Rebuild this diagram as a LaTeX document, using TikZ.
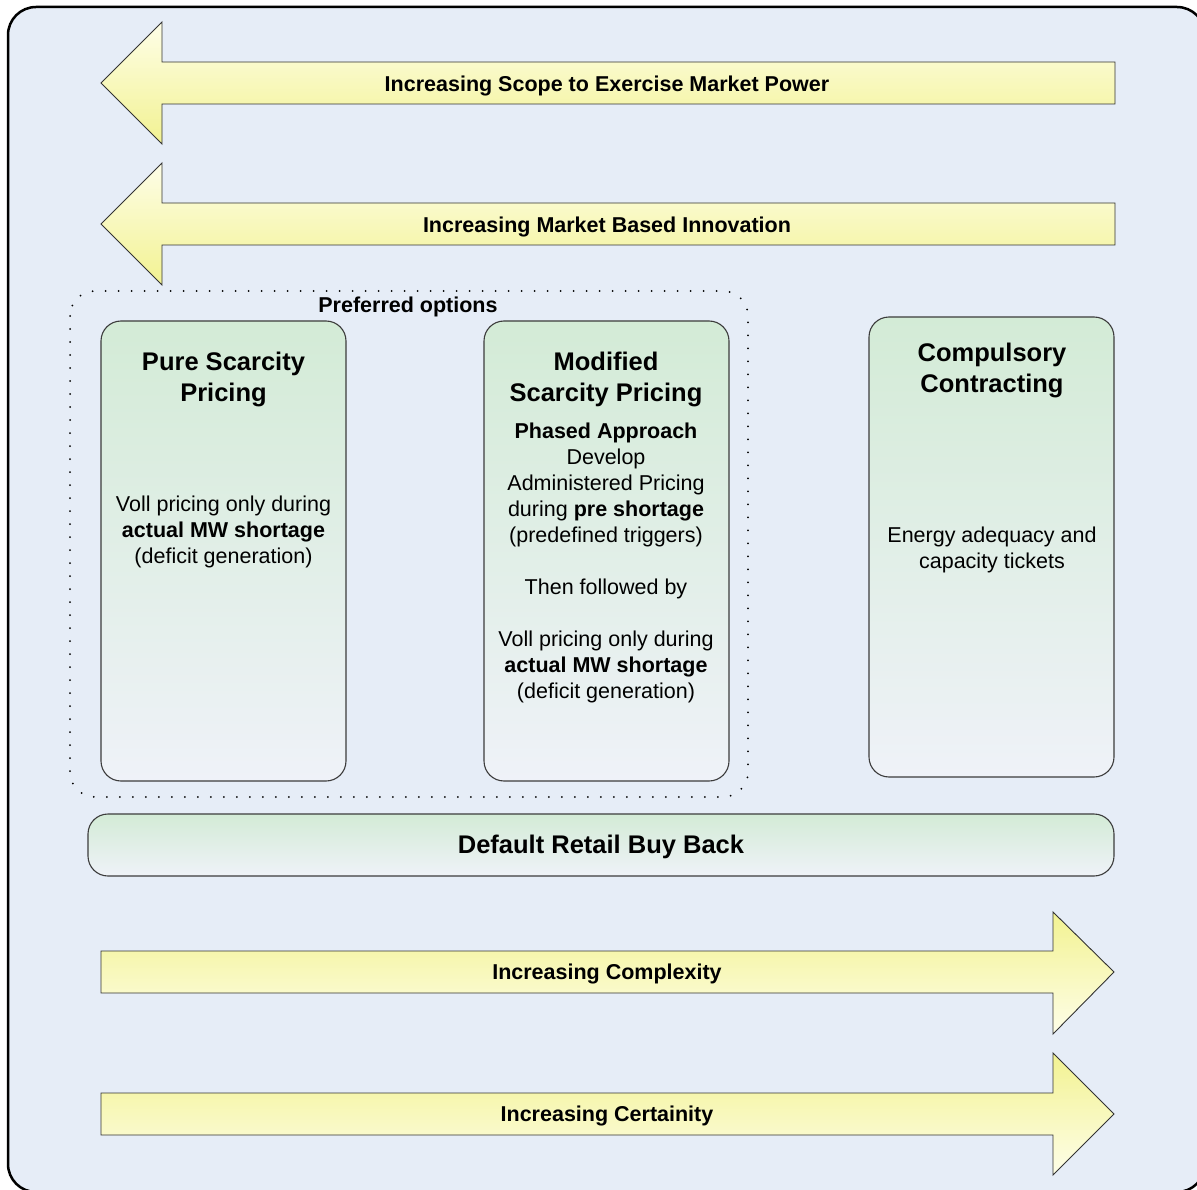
\documentclass[tikz,border=0pt]{standalone}
\usepackage{fontspec}
\setmainfont{Liberation Sans}
\definecolor{bgblue}{RGB}{230,237,247}
\definecolor{boxtop}{RGB}{211,235,214}
\definecolor{boxbot}{RGB}{239,242,248}
\definecolor{boxline}{RGB}{60,60,60}
\definecolor{ylight}{RGB}{254,254,232}
\definecolor{ymid}{RGB}{247,247,176}
\definecolor{ydark}{RGB}{242,242,145}
\newcommand{\titlesize}{\fontsize{25.5}{31}\selectfont\bfseries}
\newcommand{\bodysize}{\fontsize{21.5}{26}\selectfont}
\begin{document}
\begin{tikzpicture}[x=1pt,y=-1pt,
  greenbox/.style={draw=boxline, line width=1.1pt, rounded corners=20pt,
    top color=boxtop, bottom color=boxbot, inner sep=0pt},
  leftarrow/.style={draw=black!80, line width=0.9pt,
    top color=ylight, middle color=ymid, bottom color=ydark},
  rightarrow/.style={draw=black!80, line width=0.9pt,
    top color=ydark, middle color=ymid, bottom color=ylight},
  albl/.style={font=\bodysize\bfseries, inner sep=0pt},
  ttl/.style={font=\titlesize, align=center, inner sep=0pt},
  bdy/.style={font=\bodysize, align=center, inner sep=0pt}]
\useasboundingbox (0,0) rectangle (1197,1190);
\begin{scope}
\clip (0,0) rectangle (1197,1190);
\draw[line width=2.5pt, fill=bgblue, rounded corners=28pt] (8,7) rectangle (1205,1192);
\end{scope}

% top arrows (pointing left)
\path[leftarrow] (101,83) -- (162,22) -- (162,62) -- (1115,62) -- (1115,104) -- (162,104) -- (162,144) -- cycle;
\node[albl] (a1) at (607,85.5) {Increasing Scope to Exercise Market Power};
\path[leftarrow] (101,224) -- (162,163) -- (162,203) -- (1115,203) -- (1115,245) -- (162,245) -- (162,285) -- cycle;
\node[albl] (a2) at (607,226.5) {Increasing Market Based Innovation};

% bottom arrows (pointing right)
\path[rightarrow] (1114,972) -- (1053,912) -- (1053,951) -- (101,951) -- (101,993) -- (1053,993) -- (1053,1034) -- cycle;
\node[albl] (a3) at (607,973.5) {Increasing Complexity};
\path[rightarrow] (1114,1114) -- (1053,1053) -- (1053,1093) -- (101,1093) -- (101,1135) -- (1053,1135) -- (1053,1175) -- cycle;
\node[albl] (a4) at (607,1115.5) {Increasing Certainity};

% preferred options dotted frame
\draw[line width=2pt, line cap=round, dash pattern=on 0pt off 13pt, rounded corners=25pt]
  (70,291) rectangle (748,797);
\node[albl] (pref) at (408,306.5) {Preferred options};

% boxes
\path[greenbox] (101,321) rectangle (346,781);
\node[ttl] (t1) at (223.5,379) {Pure Scarcity\\Pricing};
\node[bdy] (d1) at (223.5,532) {Voll pricing only during\\\textbf{actual MW shortage}\\(deficit generation)};

\path[greenbox] (484,321) rectangle (729,781);
\node[ttl] (t2) at (606,379) {Modified\\Scarcity Pricing};
\node[bdy] (d2) at (606,563) {\textbf{Phased Approach}\\Develop\\Administered Pricing\\during \textbf{pre shortage}\\(predefined triggers)\\[26pt]Then followed by\\[26pt]Voll pricing only during\\\textbf{actual MW shortage}\\(deficit generation)};

\path[greenbox] (869,317) rectangle (1114,777);
\node[ttl] (t3) at (992,370) {Compulsory\\Contracting};
\node[bdy] (d3) at (992,549.5) {Energy adequacy and\\capacity tickets};

\path[greenbox] (88,814) rectangle (1114,876);
\node[ttl] (t4) at (601,846.5) {Default Retail Buy Back};
\end{tikzpicture}
\end{document}
